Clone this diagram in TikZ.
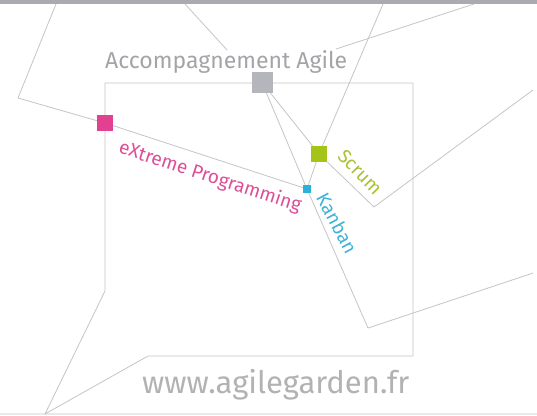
\documentclass[tikz,border=0pt]{standalone}
\usepackage{fontspec}
\setmainfont{Fira Sans}
\definecolor{barC}{HTML}{A9ABB0}
\definecolor{botC}{HTML}{E6EAEC}
\definecolor{lineC}{HTML}{C4C4C6}
\definecolor{grayC}{HTML}{B5B6BB}
\definecolor{pinkC}{HTML}{E2418F}
\definecolor{greenC}{HTML}{A5C41A}
\definecolor{cyanC}{HTML}{2AB0D9}
\definecolor{pinkT}{HTML}{DC4F97}
\definecolor{greenT}{HTML}{A9C22E}
\definecolor{cyanT}{HTML}{3FB3D6}
\definecolor{txtC}{HTML}{A4A4A8}
\definecolor{wwwC}{HTML}{B2B2B4}
\begin{document}
\begin{tikzpicture}[x=1pt,y=-1pt,
  ln/.style={draw=lineC, line width=0.8pt, line join=round},
  sq/.style={rectangle, inner sep=0pt, minimum size=#1},
  lbl/.style={font=\fontsize{19}{19}\selectfont, inner sep=0pt}]
\useasboundingbox (0,0) rectangle (537,415);
\fill[barC] (0,0) rectangle (537,4);
\fill[botC] (0,413) rectangle (537,415);
% frame
\draw[ln] (105,83) -- (413,83) -- (413,356) -- (148,356) -- (45,414) -- (105,291) -- cycle;
% squares
\node[sq=21pt, fill=grayC] (agile) at (262,82.5) {};
\node[sq=16pt, fill=pinkC] (xp) at (105,123) {};
\node[sq=16pt, fill=greenC] (scrum) at (319,154) {};
\node[sq=8pt, fill=cyanC] (kanban) at (307,189) {};
% free ends
\coordinate (tl) at (56,4);
\coordinate (lft) at (18,98);
\coordinate (ta) at (185,4);
\coordinate (tb) at (227,50);
\coordinate (tr) at (474,4);
\coordinate (tc) at (336,49);
\coordinate (ts) at (383,4);
\coordinate (sc) at (374,207);
\coordinate (se) at (533,90);
\coordinate (kc) at (368,328);
\coordinate (ke) at (533,273);
% connectors
\draw[ln] (tl) -- (lft) -- (xp) -- (kanban);
\draw[ln] (ta) -- (tb);
\draw[ln] (tr) -- (tc);
\draw[ln] (ts) -- (scrum) -- (kanban);
\draw[ln] (agile) -- (scrum) -- (sc) -- (se);
\draw[ln] (agile) -- (kanban) -- (kc) -- (ke);
% texts
\node[font=\fontsize{23}{23}\selectfont, text=txtC, anchor=base west, inner sep=0pt] (title) at (105,68) {Accompagnement Agile};
\node[font=\fontsize{31}{31}\selectfont, text=wwwC, anchor=base west, inner sep=0pt] (www) at (142,393) {www.agilegarden.fr};
\node[lbl, text=pinkT, rotate=-18] (lxp) at (210,177) {eXtreme Programming};
\node[lbl, text=greenT, rotate=-46] (lsc) at (360,172) {Scrum};
\node[lbl, text=cyanT, rotate=-62] (lkb) at (337,223) {Kanban};
\end{tikzpicture}
\end{document}
